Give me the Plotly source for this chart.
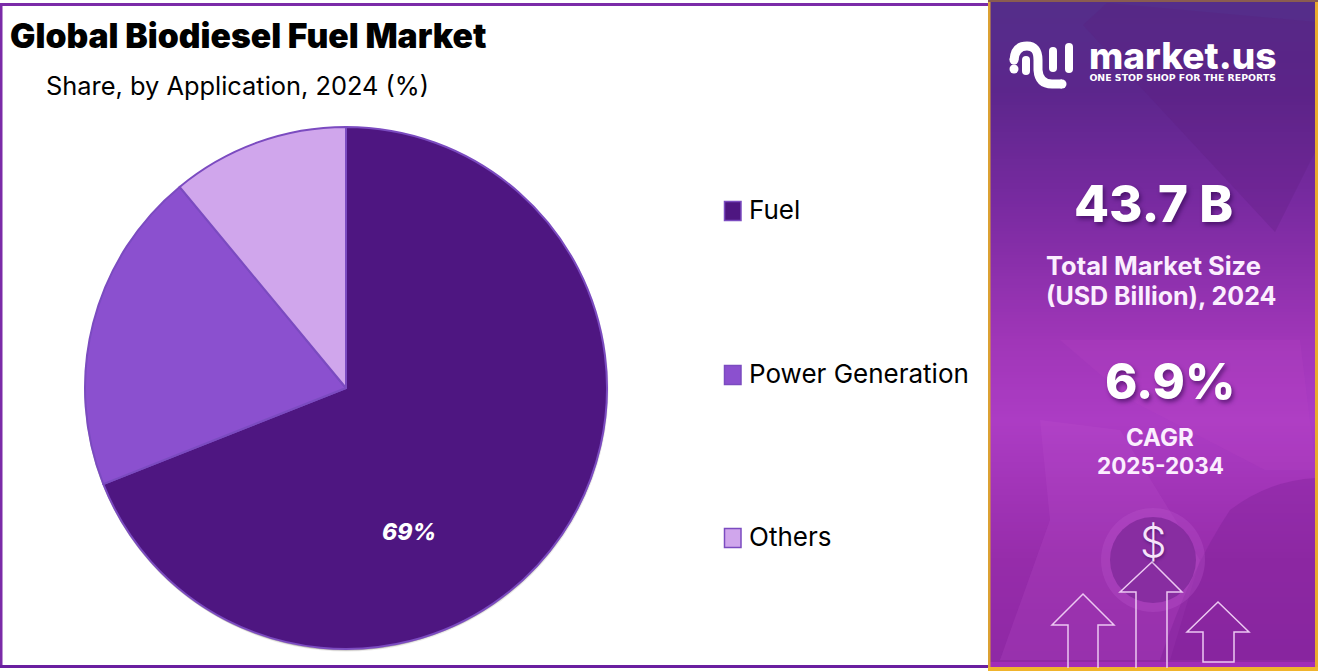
import plotly.graph_objects as go

W, H = 1318, 671
categories = ["Fuel", "Power Generation", "Others"]
shares = [69, 20, 11]
colors = ["#4e1681", "#8b50cf", "#d0a6ec"]
title = "Global Biodiesel Fuel Market"
subtitle = "Share, by Application, 2024 (%)"
FONT = "Inter"


def X(p):
    return p / W


def Y(p):
    return 1 - p / H


def lerp(a, b, t):
    return tuple(round(a[i] + (b[i] - a[i]) * t) for i in range(3))


shapes = []
annotations = []


def rect(x0, y0, x1, y1, fill, line=None, lw=0, op=1):
    shapes.append(dict(type="rect", xref="paper", yref="paper", x0=X(x0), x1=X(x1), y0=Y(y1), y1=Y(y0),
                       fillcolor=fill, opacity=op, layer="below",
                       line=dict(color=line or fill, width=lw)))


def px_path(cmds):
    out = []
    for c in cmds:
        if isinstance(c, str):
            out.append(c)
        else:
            out.append(f"{X(c[0]):.5f},{Y(c[1]):.5f}")
    return " ".join(out)


def path(cmds, fill="rgba(0,0,0,0)", line="rgba(0,0,0,0)", lw=0, op=1):
    shapes.append(dict(type="path", xref="paper", yref="paper", path=px_path(cmds), fillcolor=fill,
                       opacity=op, layer="below", line=dict(color=line, width=lw)))


def circle(cx, cy, r, fill, op=1, line=None, lw=0):
    shapes.append(dict(type="circle", xref="paper", yref="paper", x0=X(cx - r), x1=X(cx + r),
                       y0=Y(cy + r), y1=Y(cy - r), fillcolor=fill, opacity=op, layer="below",
                       line=dict(color=line or fill, width=lw)))


def text(s, x, y, size, color="#000000", anchor="center", weight=400, style="normal", family=FONT, shadow="none"):
    annotations.append(dict(text=s, xref="paper", yref="paper", x=X(x), y=Y(y), xanchor=anchor, yanchor="middle",
                            showarrow=False, align="center",
                            font=dict(family=family, size=size, color=color, weight=weight, style=style, shadow=shadow)))


# right panel: vertical gradient built from colour stops
stops = [(0, (84, 46, 138)), (90, (92, 38, 140)), (200, (120, 42, 160)), (340, (160, 54, 184)),
         (420, (172, 60, 196)), (560, (150, 44, 170)), (671, (142, 40, 164))]
for y in range(0, H, 3):
    for (a, ca), (b, cb) in zip(stops, stops[1:]):
        if a <= y <= b:
            c = lerp(ca, cb, (y - a) / (b - a))
            rect(988, y, W, min(y + 3.5, H), f"rgb({c[0]},{c[1]},{c[2]})")
            break

# soft background photo shapes
path(["M", (1083, 25), "L", (1107, 3), "L", (1316, 22), "L", (1316, 150), "L", (1275, 232), "Z"], fill="#5a1a7c", op=0.25)
path(["M", (1060, 340), "L", (1300, 340), "L", (1316, 470), "L", (1265, 470), "L", (1130, 400), "Z"], fill="#c04ac8", op=0.16)
path(["M", (1040, 420), "L", (1050, 520), "L", (1000, 660), "L", (1170, 660), "L", (1200, 560), "L", (1120, 430), "Z"], fill="#c05ad0", op=0.18)
path(["M", (1230, 510), "Q", (1270, 480), (1316, 478), "L", (1316, 660), "L", (1160, 660), "Q", (1190, 570), (1230, 510), "Z"],
     fill="#7a1f96", op=0.35)
circle(1153, 560, 52, "#c05ad0", op=0.28)
circle(1153, 560, 43, "#832a9c", op=0.85)
rect(990, 662, 1316, 668, "#a22cb8")

# frames
rect(0, 3, 2.5, 668, "#7b2ba8")
rect(0, 3, 988, 6, "#7b2ba8")
rect(0, 665, 988, 668, "#6a1fa0")
rect(988, 0, 990.5, H, "#dca132")
rect(1315, 0, W, H, "#e9ab2e")
rect(988, 667, W, H, "#f0b42c")
rect(988, 0, W, 2, "#8a5c50")

# pie drop shadow
circle(346.5, 389.5, 262, "rgba(60,50,40,0.10)")
circle(346, 389, 261.5, "rgba(60,50,40,0.30)")

# market.us logo strokes
white = "#ffffff"
path(["M", (1014, 60), "Q", (1015, 46), (1027, 46), "Q", (1038, 46), (1038, 60), "L", (1038, 70),
      "Q", (1039, 84), (1052, 84), "L", (1062, 84)], line=white, lw=9)
circle(1014, 60, 4.5, white)
circle(1062, 84, 4.5, white)
circle(1014, 69, 4.5, white)
path(["M", (1026, 60), "L", (1026, 71)], line=white, lw=8)
circle(1026, 71, 4, white)
circle(1026, 60, 4, white)
path(["M", (1053, 51), "L", (1053, 68)], line=white, lw=8)
circle(1053, 51, 4, white)
circle(1053, 68, 4, white)
path(["M", (1069, 47), "L", (1069, 69)], line=white, lw=8)
circle(1069, 47, 4, white)
circle(1069, 69, 4, white)

# arrows
arrow = "#ecc8f2"
path(["M", (1068, 668), "L", (1068, 625), "L", (1052, 625), "L", (1083, 594), "L", (1114, 625), "L", (1098, 625), "L", (1098, 668)],
     line=arrow, lw=1.5)
path(["M", (1136, 668), "L", (1136, 592), "L", (1120, 592), "L", (1152, 562), "L", (1182, 592), "L", (1167, 592), "L", (1167, 668)],
     line=arrow, lw=1.5)
path(["M", (1203, 662), "L", (1203, 632), "L", (1187, 632), "L", (1218, 602), "L", (1249, 632), "L", (1234, 632), "L", (1234, 662), "Z"],
     line=arrow, lw=1.5)

# titles
text(title, 8, 36, 33.7, anchor="left", weight=900)
text(subtitle, 43.5, 86, 25.4, anchor="left")

# legend
for i, (cat, col, yc) in enumerate(zip(categories, colors, [211, 375, 538])):
    rect(724.5, yc - 9.5, 741, yc + 9.5, col, line="#7b4bc0", lw=1.5)
    text(cat, 747, yc - 1.5, 26, anchor="left")

# value label
text(f"{shares[0]}%", 409, 532, 23, color="#ffffff", weight=800, style="italic")

# panel text
sh = "2px 3px 4px rgba(40,0,70,0.55)"
text("<span style='font-family:Inter;font-weight:800;font-size:37px'>market.us</span><br>ONE STOP SHOP FOR THE REPORTS",
     1182, 58, 9.4, color="#ffffff", weight=700, family="DejaVu Sans")
text("43.7 B", 1153, 203, 51, color="#ffffff", weight=800, shadow=sh)
text("Total Market Size", 1153, 266, 25.5, color="#fbeefe", weight=700)
text("(USD Billion), 2024", 1161, 296, 25, color="#fbeefe", weight=700)
text("6.9%", 1170, 381, 49, color="#ffffff", weight=800, shadow=sh)
text("CAGR", 1160, 437, 24, color="#fbeefe", weight=700)
text("2025-2034", 1160, 465, 22.5, color="#fbeefe", weight=700)
text("$", 1153, 541, 42, color="#f6e4fa", weight=300, shadow="1px 2px 3px rgba(40,0,70,0.4)")

fig = go.Figure(go.Pie(
    labels=categories, values=shares, sort=False, direction="clockwise", rotation=0,
    marker=dict(colors=colors, line=dict(color="#7b4bc0", width=2)),
    textinfo="none", hoverinfo="label+percent", showlegend=False,
    domain=dict(x=[X(85), X(607)], y=[Y(649), Y(127)]),
))
fig.update_layout(width=W, height=H, margin=dict(l=0, r=0, t=0, b=0), paper_bgcolor="#ffffff",
                  font=dict(family=FONT), shapes=shapes, annotations=annotations, showlegend=False)
fig.write_html("out.html", post_script="document.body.style.margin='0';document.body.style.overflow='hidden';",
               config=dict(displayModeBar=False))
